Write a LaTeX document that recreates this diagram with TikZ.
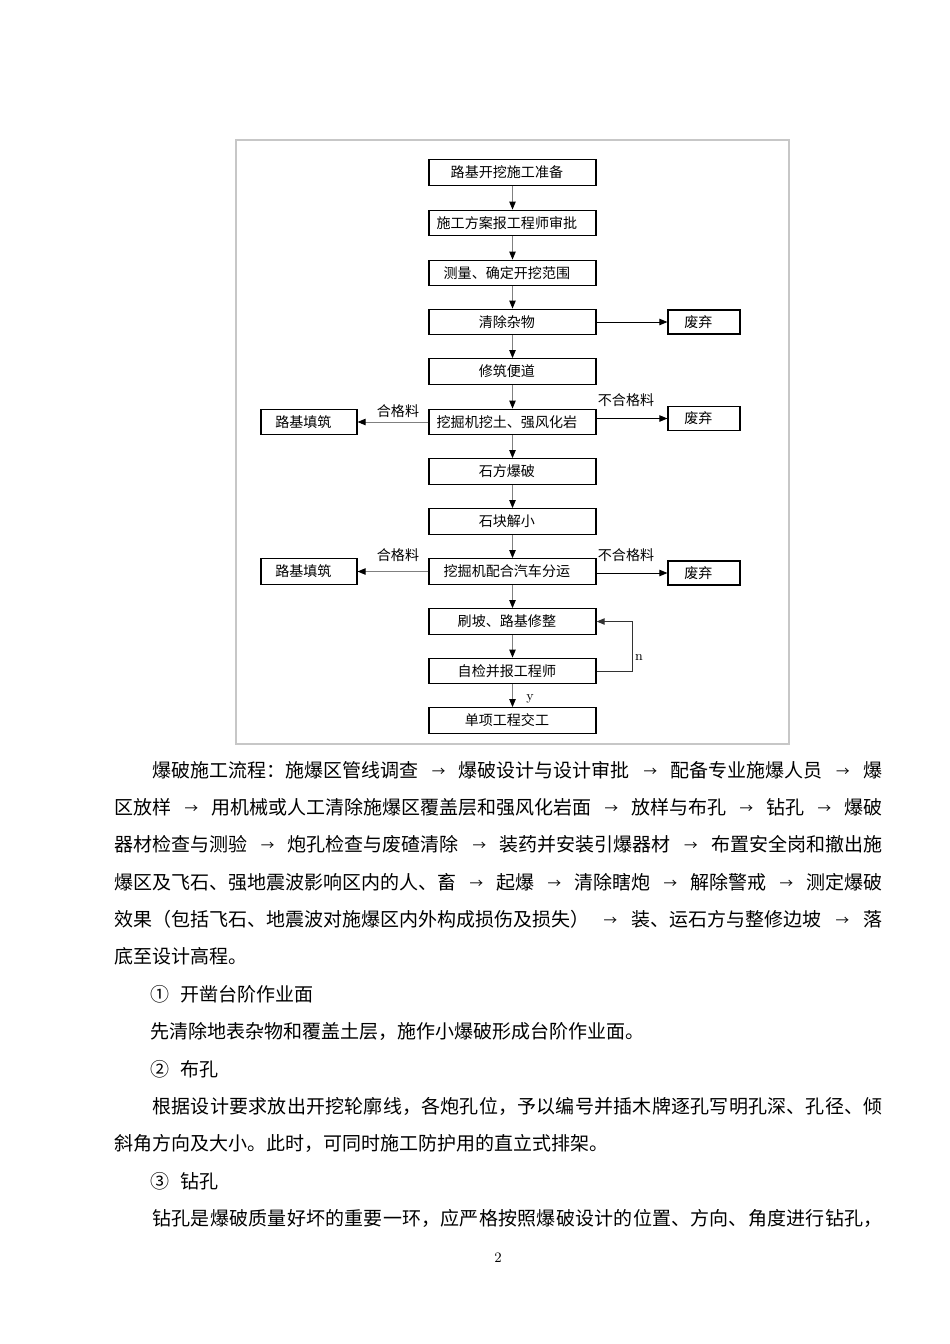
\documentclass[tikz,border=0pt]{standalone}
\usepackage{fontspec}
\newfontfamily\cjk{Noto Sans CJK SC}
\usetikzlibrary{arrows.meta}
\XeTeXlinebreaklocale "zh"
\XeTeXlinebreakskip=0pt plus 2pt minus 0.2pt
\setlength\parindent{0pt}
\newcommand\toarr{\hskip 0.45em plus 1fil{\fontsize{8.5}{9}\selectfont\raisebox{0.6pt}{→}}\hskip 0.45em plus 1fil\relax}

\tikzset{
  box/.style={draw=black, line width=0.8pt, inner sep=0pt, minimum height=16pt,
    font=\cjk\fontsize{8.8}{10}\selectfont, execute at end node={\kern7pt}},
  mainbox/.style={box, minimum width=104.6pt},
  sidebox/.style={box, minimum width=60pt},
  wastebox/.style={box, minimum width=45pt, minimum height=15pt},
  lbl/.style={font=\cjk\fontsize{8.8}{10}\selectfont, inner sep=0pt},
  flow/.style={line width=0.6pt, draw=black!50, -{Triangle[length=5pt,width=4pt,color=black]}},
  reject/.style={line width=0.6pt, draw=black, -{Triangle[length=5pt,width=4pt]}},
  txt/.style={anchor=west, inner sep=0pt, font=\cjk\fontsize{11.9}{14}\selectfont},
  fullline/.style={txt, text width=481pt, align=justify, execute at begin node={\parfillskip=0pt}}
}

\begin{document}
\begin{tikzpicture}[x=0.6263pt, y=-0.6263pt]
\useasboundingbox[fill=white] (0,0) rectangle (950,1344);
% frame of the chart
\draw [black!22][line width=0.8pt] (236,140) rectangle (789,744);

% main column
\node (b1) at (512.5,172.5) [mainbox]{路基开挖施工准备};
\node (b2) at (512.5,223) [mainbox]{施工方案报工程师审批};
\node (b3) at (512.5,273) [mainbox]{测量、确定开挖范围};
\node (b4) at (512.5,322) [mainbox]{清除杂物};
\node (b5) at (512.5,371.5) [mainbox]{修筑便道};
\node (b6) at (512.5,422) [mainbox]{挖掘机挖土、强风化岩};
\node (b7) at (512.5,471.5) [mainbox]{石方爆破};
\node (b8) at (512.5,521.5) [mainbox]{石块解小};
\node (b9) at (512.5,571.5) [mainbox]{挖掘机配合汽车分运};
\node (b10) at (512.5,621.5) [mainbox]{刷坡、路基修整};
\node (b11) at (512.5,671) [mainbox]{自检并报工程师};
\node (b12) at (512.5,720.5) [mainbox]{单项工程交工};

% side boxes
\node (r1) at (704,322) [wastebox]{废弃};
\node (r2) at (704,418.5) [wastebox]{废弃};
\node (r3) at (704,573) [wastebox]{废弃};
\node (l1) at (309,422) [sidebox]{路基填筑};
\node (l2) at (309,571.5) [sidebox]{路基填筑};

% labels
\node (q1) at (398,411) [lbl]{合格料};
\node (q2) at (398,555) [lbl]{合格料};
\node (u1) at (626,400) [lbl]{不合格料};
\node (u2) at (626,555) [lbl]{不合格料};
\node (ny) at (530,699) [font=\fontsize{8.5}{9}\selectfont, inner sep=0pt]{y};
\node (nn) at (639,657) [font=\fontsize{8.5}{9}\selectfont, inner sep=0pt]{n};

% connectors
\foreach \a/\b in {b1/b2,b2/b3,b3/b4,b4/b5,b5/b6,b6/b7,b7/b8,b8/b9,b9/b10,b10/b11,b11/b12}
  \draw [flow] (\a.south) -- (\b.north);
\draw [reject] (b4.east) -- (r1.west);
\draw [reject] (b6.east |- r2.west) -- (r2.west);
\draw [reject] (b9.east |- r3.west) -- (r3.west);
\draw [flow] (b6.west) -- (l1.east);
\draw [flow] (b9.west) -- (l2.east);
\draw [reject][black!80] (b11.east) -- ++(36,0) |- (b10.east);

% text of the page
\node (t1) at (114,770) [fullline]{\hspace*{2em}爆破施工流程：施爆区管线调查\toarr 爆破设计与设计审批\toarr 配备专业施爆人员\toarr 爆};
\node (t2) at (114,807) [fullline]{区放样\toarr 用机械或人工清除施爆区覆盖层和强风化岩面\toarr 放样与布孔\toarr 钻孔\toarr 爆破};
\node (t3) at (114,844) [fullline]{器材检查与测验\toarr 炮孔检查与废碴清除\toarr 装药并安装引爆器材\toarr 布置安全岗和撤出施};
\node (t4) at (114,882) [fullline]{爆区及飞石、强地震波影响区内的人、畜\toarr 起爆\toarr 清除瞎炮\toarr 解除警戒\toarr 测定爆破};
\node (t5) at (114,919) [fullline]{效果（包括飞石、地震波对施爆区内外构成损伤及损失）\toarr 装、运石方与整修边坡\toarr 落};
\node (t6) at (114,956) [txt]{底至设计高程。};
\node (t7) at (150,994) [txt]{①\hspace{0.6em}开凿台阶作业面};
\node (t8) at (150,1031) [txt]{先清除地表杂物和覆盖土层，施作小爆破形成台阶作业面。};
\node (t9) at (150,1069) [txt]{②\hspace{0.6em}布孔};
\node (t10) at (114,1106) [fullline]{\hspace*{2em}根据设计要求放出开挖轮廓线，各炮孔位，予以编号并插木牌逐孔写明孔深、孔径、倾};
\node (t11) at (114,1143) [txt]{斜角方向及大小。此时，可同时施工防护用的直立式排架。};
\node (t12) at (150,1181) [txt]{③\hspace{0.6em}钻孔};
\node (t13) at (114,1218) [fullline]{\hspace*{2em}钻孔是爆破质量好坏的重要一环，应严格按照爆破设计的位置、方向、角度进行钻孔，};
\node (pg) at (498,1258) [font=\fontsize{9}{10}\selectfont]{2};
\end{tikzpicture}
\end{document}
